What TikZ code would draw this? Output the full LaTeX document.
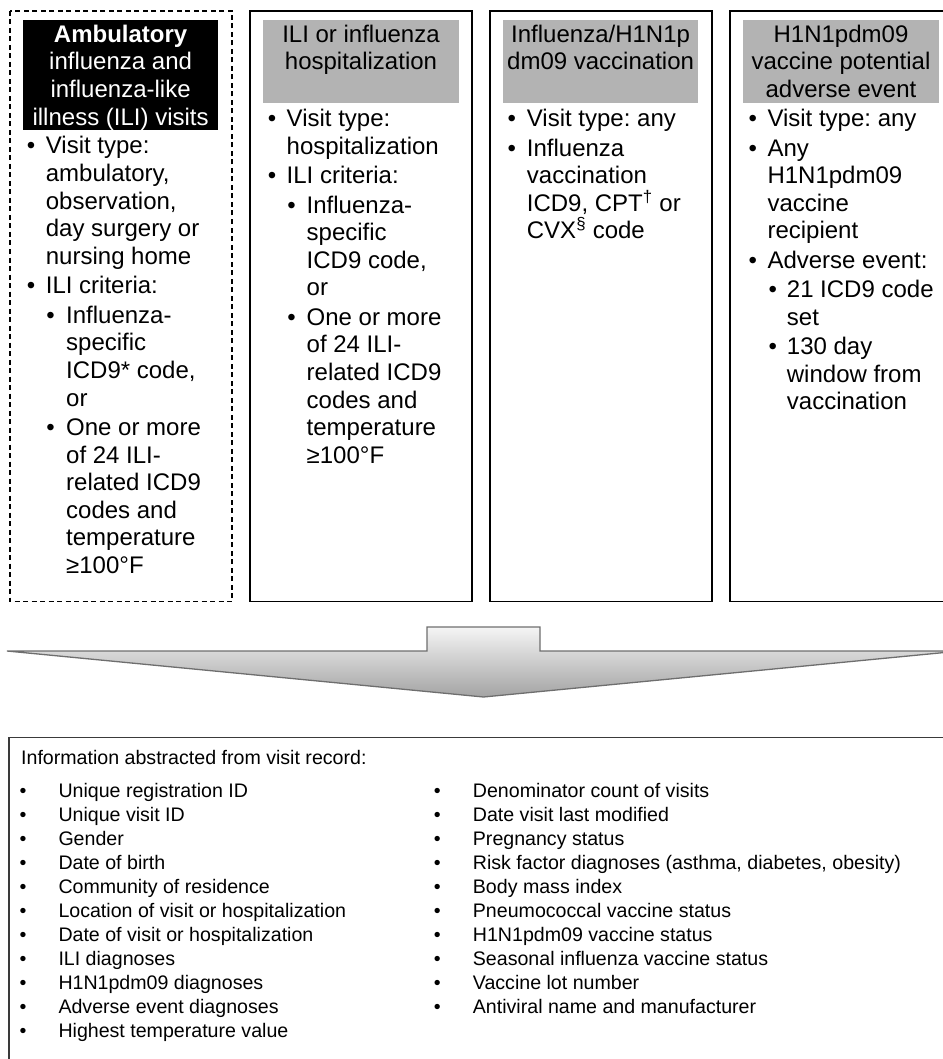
\documentclass[tikz,border=0pt]{standalone}
\usepackage{fontspec}
\setmainfont{Liberation Sans}
\frenchspacing
\definecolor{hdrgray}{HTML}{B3B3B3}
\definecolor{arrowline}{HTML}{6E6E6E}
\definecolor{infoline}{HTML}{3A3A3A}
\newcommand\bigfnt{\fontsize{24}{27.6}\selectfont}
\newcommand\smallfnt{\fontsize{19.6}{24}\selectfont}
\tikzset{
  colbox/.style={draw=black, line width=1.3pt},
  dashbox/.style={draw=black, line width=1.2pt, dash pattern=on 5pt off 3.5pt},
  hdrbox/.style={fill=hdrgray},
  blackbox/.style={fill=black},
  txtline/.style={anchor=base west, inner sep=0pt, font=\bigfnt},
  hdrline/.style={anchor=base, inner sep=0pt, font=\bigfnt},
  bul/.style={anchor=base, inner sep=0pt, font=\bigfnt},
  txtsmall/.style={anchor=base west, inner sep=0pt, font=\smallfnt},
  bulsmall/.style={anchor=base, inner sep=0pt, font=\smallfnt},
  bigarrow/.style={draw=arrowline, line width=1.3pt, top color=black!4, bottom color=black!36},
  infobox/.style={draw=infoline, line width=1.2pt}
}
\newcommand\putlines[4]{%
  \foreach \lineT [count=\ii from 0] in {#4}{\node[txtline] (#1-\ii) at (#2,{#3+\ii*27.6}) {\lineT};}}
\newcommand\bitem[5]{%
  \node[bul] (#1-b) at (#2,#4) {•};
  \putlines{#1}{#3}{#4}{#5}}
\newcommand\hlines[5]{%
  \foreach \lineT [count=\ii from 0] in {#5}{\node[hdrline,#4] (#1-\ii) at (#2,{#3+\ii*27.6}) {\lineT};}}
\begin{document}
\begin{tikzpicture}[x=1pt,y=-1pt]
\useasboundingbox (0,0) rectangle (942,1059);
% column boxes
\draw[dashbox] (10,11) rectangle (232,601.5);
\draw[colbox] (250,11) rectangle (472,601.5);
\draw[colbox] (490,11) rectangle (712,601.5);
\draw[colbox] (730,11) rectangle (952,601.5);
% headers
\fill[blackbox] (23,20) rectangle (218.3,130);
\fill[hdrbox] (263,20) rectangle (459,103);
\fill[hdrbox] (503,20) rectangle (698,103);
\fill[hdrbox] (743,20) rectangle (939,103);
\hlines{h1}{120.6}{42.3}{text=white}{\textbf{Ambulatory}, influenza and, influenza-like, illness (ILI) visits}
\hlines{h2}{361}{42.3}{}{ILI or influenza, hospitalization}
\hlines{h3}{600.6}{42.3}{}{Influenza/H1N1p, dm09 vaccination}
\hlines{h4}{841}{42.3}{}{H1N1pdm09, vaccine potential, adverse event}
% column 1
\bitem{c1a}{31}{45.7}{154}{Visit type:, {ambulatory,}, {observation,}, day surgery or, nursing home}
\bitem{c1b}{31}{45.7}{293.8}{ILI criteria:}
\bitem{c1c}{50.5}{66}{323.2}{Influenza-, specific, {ICD9* code,}, or}
\bitem{c1d}{50.5}{66}{435.4}{One or more, of 24 ILI-, related ICD9, codes and, temperature, ≥100°F}
% column 2
\bitem{c2a}{272}{286.5}{126.7}{Visit type:, hospitalization}
\bitem{c2b}{272}{286.5}{183.7}{ILI criteria:}
\bitem{c2c}{291.5}{306.5}{213.1}{Influenza-, specific, {ICD9 code,}, or}
\bitem{c2d}{291.5}{306.5}{325.3}{One or more, of 24 ILI-, related ICD9, codes and, temperature, ≥100°F}
% column 3
\bitem{c3a}{511.7}{526.7}{126.7}{Visit type: any}
\bitem{c3b}{511.7}{526.7}{156.1}{Influenza, vaccination, {ICD9, CPT\textsuperscript{†} or}, CVX\textsuperscript{§} code}
% column 4
\bitem{c4a}{752.7}{767.3}{126.7}{Visit type: any}
\bitem{c4b}{752.7}{767.3}{156.1}{Any, H1N1pdm09, vaccine, recipient}
\bitem{c4c}{752.7}{767.3}{268.3}{Adverse event:}
\bitem{c4d}{772.7}{786.7}{297.7}{21 ICD9 code, set}
\bitem{c4e}{772.7}{786.7}{354.7}{130 day, window from, vaccination}
% block arrow
\draw[bigarrow] (7,651) -- (427,651) -- (427,627) -- (540,627) -- (540,651) -- (960,651) -- (483.5,697) -- cycle;
% information box
\draw[infobox] (9,737.3) rectangle (962,1090);
\node[txtsmall] (infohead) at (21,764) {Information abstracted from visit record:};
\foreach \lineT [count=\ii from 0] in {Unique registration ID, Unique visit ID, Gender, Date of birth, Community of residence, Location of visit or hospitalization, Date of visit or hospitalization, ILI diagnoses, H1N1pdm09 diagnoses, Adverse event diagnoses, Highest temperature value}{
  \node[bulsmall] (infoL-\ii-b) at (23,{797+\ii*24}) {•};
  \node[txtsmall] (infoL-\ii) at (58.3,{797+\ii*24}) {\lineT};
}
\foreach \lineT [count=\ii from 0] in {Denominator count of visits, Date visit last modified, Pregnancy status, {Risk factor diagnoses (asthma, diabetes, obesity)}, Body mass index, Pneumococcal vaccine status, H1N1pdm09 vaccine status, Seasonal influenza vaccine status, Vaccine lot number, Antiviral name and manufacturer}{
  \node[bulsmall] (infoR-\ii-b) at (437.3,{797+\ii*24}) {•};
  \node[txtsmall] (infoR-\ii) at (472.7,{797+\ii*24}) {\lineT};
}
\end{tikzpicture}
\end{document}
